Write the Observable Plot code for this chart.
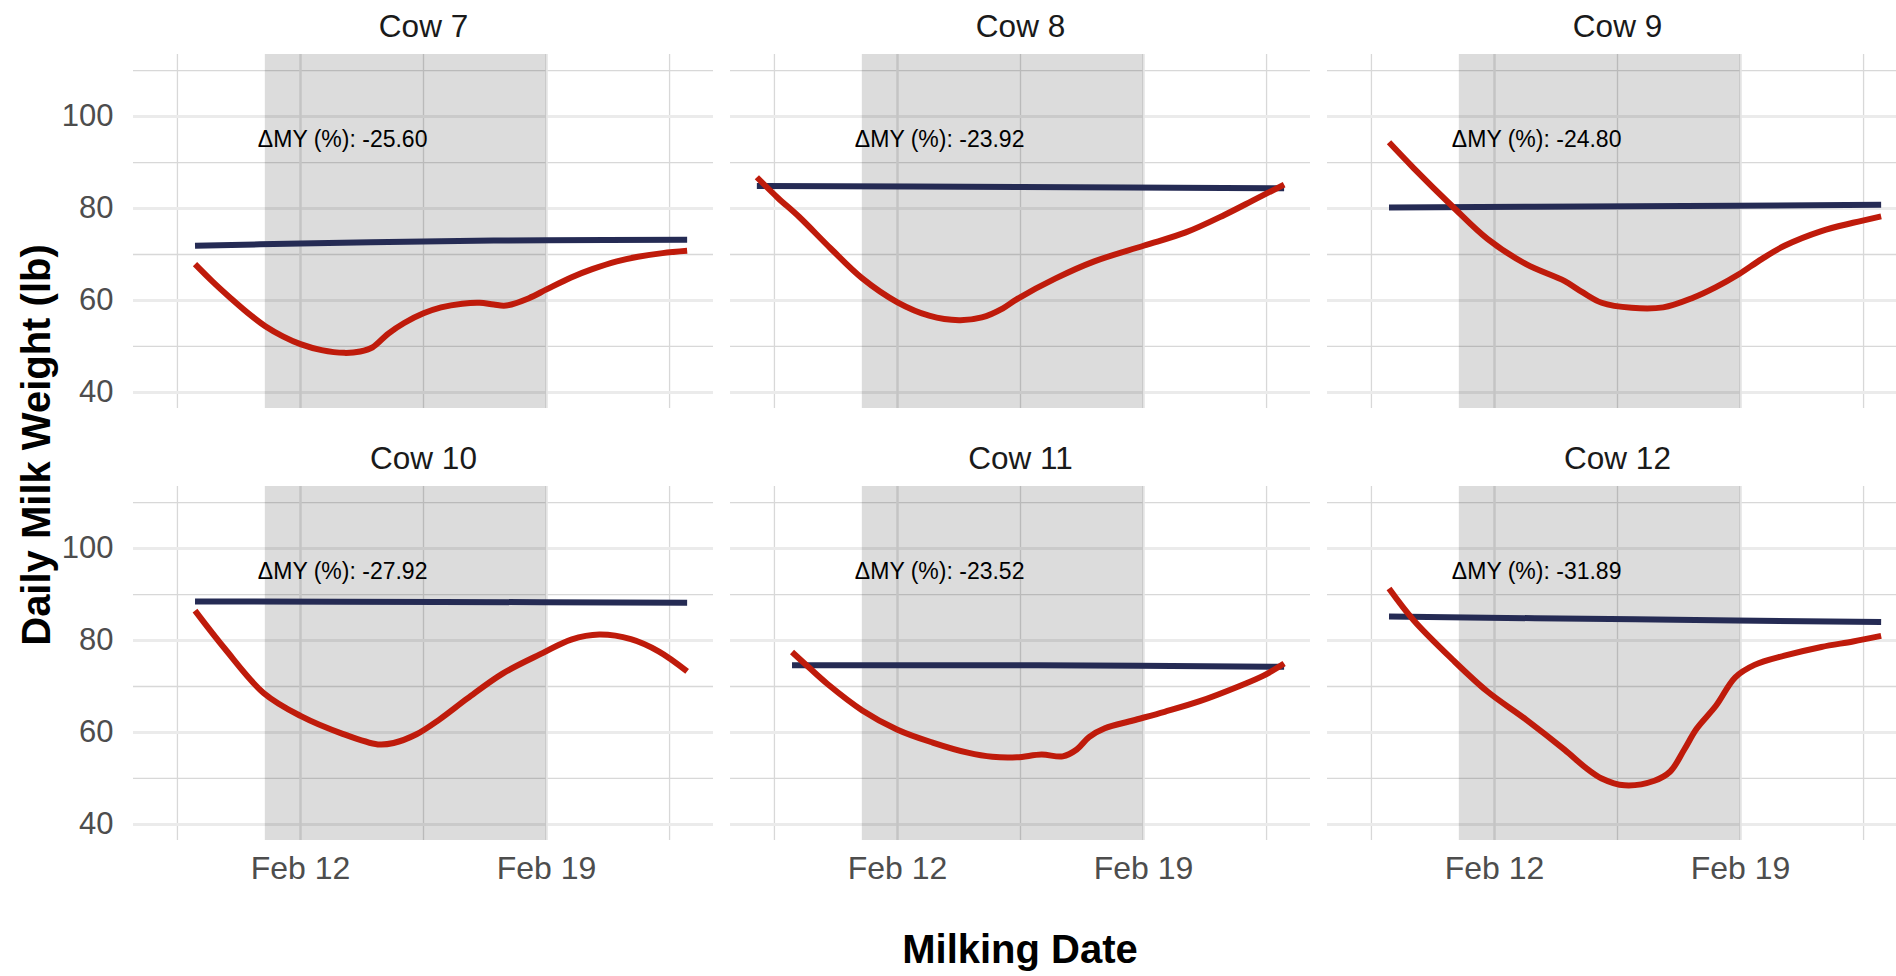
<!DOCTYPE html>
<html>
<head>
<meta charset="utf-8">
<script src="https://cdn.jsdelivr.net/npm/d3@7"></script>
<script src="https://cdn.jsdelivr.net/npm/@observablehq/plot@0.6"></script>
<style>
  html, body { margin: 0; padding: 0; background: #ffffff; overflow: hidden; }
  #wrap { position: relative; width: 1896px; height: 976px; overflow: hidden; background: #fff;
          font-family: "Liberation Sans", Arial, Helvetica, sans-serif; }
  #chart { position: absolute; left: 0; top: 0; width: 1908px; height: 976px; }
  #chart svg { max-width: none !important; }
  #xt { position: absolute; left: 1020px; top: 929px; transform: translateX(-50%);
        font-weight: bold; font-size: 40px; line-height: 1; white-space: nowrap; color: #000; }
  #yt { position: absolute; left: 36px; top: 445px; transform: translate(-50%, -50%) rotate(-90deg);
        font-weight: bold; font-size: 40px; line-height: 1; white-space: nowrap; color: #000; }
</style>
</head>
<body>
<div id="wrap">
  <div id="chart"></div>
  <div id="xt">Milking Date</div>
  <div id="yt">Daily Milk Weight (lb)</div>
</div>
<script>
// ---------- data (day = day of February) ----------
const cows = ["Cow 7", "Cow 8", "Cow 9", "Cow 10", "Cow 11", "Cow 12"];
const deltaMY = ["-25.60", "-23.92", "-24.80", "-27.92", "-23.52", "-31.89"];

// actual (smoothed) daily milk weight, lb
const cow7Day  = [9.0, 9.5, 10.0, 10.5, 11.0, 11.5, 12.0, 12.6, 13.25, 13.7, 14.05, 14.5, 14.95, 15.5, 16.0, 16.6, 17.1, 17.5, 17.85, 18.5, 19.0, 19.7, 20.3, 21.0, 21.6, 22.3, 23.0];
const cow7Milk = [67.9, 64.1, 60.6, 57.3, 54.4, 52.2, 50.5, 49.2, 48.6, 48.9, 49.8, 52.8, 55.1, 57.2, 58.5, 59.3, 59.5, 59.1, 58.9, 60.5, 62.4, 65.0, 66.8, 68.5, 69.5, 70.3, 70.8];
const cow8Day  = [8.0, 8.6, 9.2, 10.1, 11.0, 12.0, 12.9, 13.75, 14.4, 15.0, 15.4, 16.5, 17.6, 19.0, 20.2, 21.3, 22.2, 23.0];
const cow8Milk = [86.8, 82.3, 78.2, 71.3, 64.8, 59.6, 56.7, 55.7, 56.3, 58.3, 60.3, 64.8, 68.5, 71.9, 74.8, 78.6, 82.1, 85.2];
const cow9Day  = [9.0, 9.7, 10.8, 11.8, 12.9, 14.0, 14.5, 15.05, 15.9, 16.8, 17.65, 18.3, 18.95, 19.6, 20.25, 21.3, 22.2, 23.0];
const cow9Milk = [94.4, 88.8, 80.5, 73.4, 67.9, 64.2, 61.8, 59.5, 58.4, 58.5, 60.6, 62.9, 65.7, 69.0, 71.9, 75.1, 76.9, 78.3];
const cow10Day  = [9.0, 9.85, 10.95, 12.0, 13.2, 14.2, 14.65, 15.3, 15.95, 16.75, 17.75, 18.9, 19.7, 20.5, 21.4, 22.2, 23.0];
const cow10Milk = [86.5, 78.2, 68.6, 63.6, 59.7, 57.4, 57.7, 59.6, 62.8, 67.4, 72.8, 77.3, 80.2, 81.3, 80.3, 77.6, 73.3];
const cow11Day  = [9.0, 9.5, 10.0, 11.0, 12.0, 13.0, 14.0, 14.7, 15.4, 16.1, 16.7, 17.1, 17.45, 17.9, 18.7, 19.6, 20.6, 21.7, 22.4, 23.0];
const cow11Milk = [77.5, 74.0, 70.6, 64.8, 60.6, 57.8, 55.6, 54.7, 54.6, 55.2, 54.8, 56.3, 59.0, 60.9, 62.6, 64.5, 66.8, 70.0, 72.3, 75.0];
const cow12Day  = [9.0, 9.7, 10.8, 11.8, 12.9, 14.0, 14.6, 15.05, 15.7, 16.55, 17.0, 17.4, 17.75, 18.3, 18.85, 19.4, 20.25, 21.3, 22.2, 23.0];
const cow12Milk = [91.3, 84.4, 75.9, 68.9, 62.8, 56.2, 52.3, 50.0, 48.5, 49.5, 51.5, 56.3, 60.8, 65.8, 72.0, 74.7, 76.7, 78.6, 79.8, 81.0];

// expected (baseline) daily milk weight, lb
const cow7BaseDay  = [9, 12, 16, 19, 23];
const cow7Base     = [71.9, 72.4, 72.9, 73.1, 73.2];
const cow8BaseDay  = [8, 15.5, 23];
const cow8Base     = [84.9, 84.7, 84.4];
const cow9BaseDay  = [9, 16, 23];
const cow9Base     = [80.2, 80.5, 80.8];
const cow10BaseDay = [9, 16, 23];
const cow10Base    = [88.5, 88.4, 88.2];
const cow11BaseDay = [9, 16, 23];
const cow11Base    = [74.6, 74.6, 74.3];
const cow12BaseDay = [9, 16, 23];
const cow12Base    = [85.2, 84.6, 84.0];

// challenge window, annotation position, axis ticks
const challengeStart = 11, challengeEnd = 19;
const annotDay = 13.2, annotY = 95;
const yLimits = [40, 110];
const yMajor = [40, 60, 80, 100];
const yMinor = [50, 70, 90, 110];
const xMajorDays = [12, 19];
const xMinorDays = [8.5, 15.5, 22.5];

// ---------- build tables ----------
const feb = d => new Date(Date.UTC(2023, 1, 1) + (d - 1) * 864e5);
const actualSeries = [[cow7Day, cow7Milk], [cow8Day, cow8Milk], [cow9Day, cow9Milk],
                      [cow10Day, cow10Milk], [cow11Day, cow11Milk], [cow12Day, cow12Milk]];
const baseSeries = [[cow7BaseDay, cow7Base], [cow8BaseDay, cow8Base], [cow9BaseDay, cow9Base],
                    [cow10BaseDay, cow10Base], [cow11BaseDay, cow11Base], [cow12BaseDay, cow12Base]];

const panels = cows.map((name, i) => ({name, delta: deltaMY[i], col: i % 3, row: Math.floor(i / 3)}));
const toRows = series => series.flatMap(([days, vals], i) =>
  days.map((d, j) => ({cow: cows[i], date: feb(d), milk: vals[j], col: i % 3, row: Math.floor(i / 3)})));
const actualRows = toRows(actualSeries);
const baseRows = toRows(baseSeries);

// ggplot-like 5% expansion
const allDays = actualSeries.flatMap(s => s[0]);
const dMin = d3.min(allDays), dMax = d3.max(allDays);
const xPad = (dMax - dMin) * 0.05;
const xDomain = [feb(dMin - xPad), feb(dMax + xPad)];
const yPad = (yLimits[1] - yLimits[0]) * 0.05;
const yDomain = [yLimits[0] - yPad, yLimits[1] + yPad];

const FONT = '"Liberation Sans", Arial, Helvetica, sans-serif';
const RED = "#bf1b0b", NAVY = "#252b54";

const chart = Plot.plot({
  width: 1908,
  height: 976,
  marginLeft: 132,
  marginRight: 0,
  marginTop: 54,
  marginBottom: 136,
  style: {fontFamily: FONT, background: "white", overflow: "visible", maxWidth: "none"},
  x: {type: "utc", domain: xDomain},
  y: {domain: yDomain},
  fx: {domain: [0, 1, 2], paddingInner: 0.0289, paddingOuter: 0, axis: null},
  fy: {domain: [0, 1], paddingInner: 0.1806, paddingOuter: 0, axis: null},
  marks: [
    Plot.gridY(yMinor, {stroke: "#d8d8d8", strokeWidth: 1.3, strokeOpacity: 1}),
    Plot.gridX(xMinorDays.map(feb), {stroke: "#d8d8d8", strokeWidth: 1.3, strokeOpacity: 1}),
    Plot.gridY(yMajor, {stroke: "#ebebeb", strokeWidth: 3, strokeOpacity: 1}),
    Plot.gridX(xMajorDays.map(feb), {stroke: "#e4e4e4", strokeWidth: 2.5, strokeOpacity: 1}),
    Plot.rect(panels, {x1: () => feb(challengeStart), x2: () => feb(challengeEnd),
                       fx: "col", fy: "row", fill: "#000", fillOpacity: 0.137}),
    Plot.line(baseRows, {x: "date", y: "milk", z: "cow", fx: "col", fy: "row",
                         stroke: NAVY, strokeWidth: 6, curve: "catmull-rom", strokeLinecap: "butt"}),
    Plot.line(actualRows, {x: "date", y: "milk", z: "cow", fx: "col", fy: "row",
                           stroke: RED, strokeWidth: 6, curve: "catmull-rom", strokeLinecap: "butt"}),
    Plot.text(panels, {x: () => feb(annotDay), y: () => annotY, fx: "col", fy: "row",
                       text: d => `ΔMY (%): ${d.delta}`, fontSize: 23, fill: "#000"}),
    Plot.text(panels, {fx: "col", fy: "row", text: "name", frameAnchor: "top", dy: -18,
                       lineAnchor: "bottom", fontSize: 31.5, fill: "#1a1a1a"}),
    Plot.axisY({ticks: yMajor, tickSize: 0, tickPadding: 20, fontSize: 31, color: "#4d4d4d", label: null}),
    Plot.axisX({ticks: xMajorDays.map(feb), tickFormat: d3.utcFormat("%b %d"), tickSize: 0,
                tickPadding: 16, fontSize: 32, color: "#4d4d4d", label: null})
  ]
});
document.getElementById("chart").appendChild(chart);
</script>
</body>
</html>
